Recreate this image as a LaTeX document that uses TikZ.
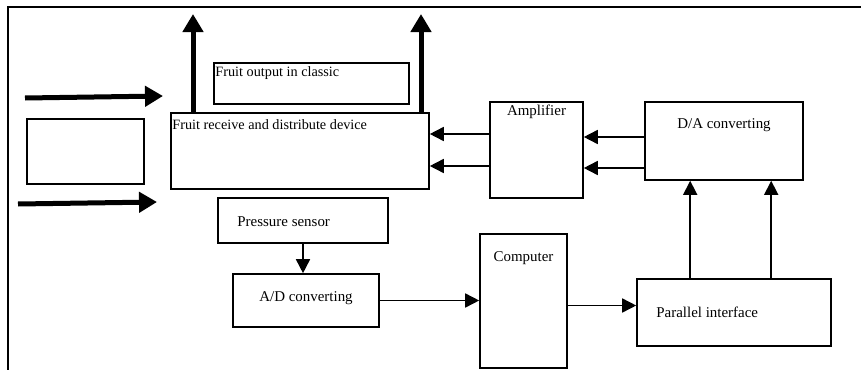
\documentclass[tikz,border=0pt]{standalone}
\usepackage{fontspec}
\setmainfont{Liberation Serif}
\usetikzlibrary{arrows.meta}

\begin{document}
\begin{tikzpicture}[
  box/.style={draw,line width=1.6bp,inner sep=0pt},
  lbl/.style={inner sep=0pt,font=\fontsize{15}{17}\selectfont},
  fruitlbl/.style={inner sep=0pt,font=\fontsize{14.3}{16}\selectfont},
  link/.style={-{Triangle[length=14bp,width=14bp]},line width=1.6bp},
  bigarrow/.style={-{Triangle[length=18bp,width=20bp]},line width=5bp}]

\useasboundingbox (0bp,0bp) rectangle (861bp,-370bp);
\draw [line width=1.8bp] (8bp,-370bp) -- (8bp,-7bp) -- (861bp,-7bp);

\node (outcls) at (311.5bp,-83.5bp)[box,minimum width=195bp,minimum height=41bp] {};
\node (dev) at (300bp,-151bp)[box,minimum width=258bp,minimum height=76bp] {};
\node (blank) at (85.5bp,-151.5bp)[box,minimum width=117bp,minimum height=65bp] {};
\node (amp) at (536.5bp,-150bp)[box,minimum width=93bp,minimum height=96bp] {};
\node (da) at (724bp,-141bp)[box,minimum width=158bp,minimum height=78bp] {};
\node (ps) at (303bp,-220.5bp)[box,minimum width=170bp,minimum height=45bp] {};
\node (ad) at (306bp,-300.5bp)[box,minimum width=146bp,minimum height=53bp] {};
\node (comp) at (523.5bp,-301bp)[box,minimum width=87bp,minimum height=134bp] {};
\node (par) at (734bp,-312.5bp)[box,minimum width=194bp,minimum height=67bp] {};

\node (outclsT) at ([xshift=2bp,yshift=-11bp]outcls.north west)[fruitlbl,anchor=west] {Fruit output in classic};
\node (devT) at ([xshift=2bp,yshift=-12bp]dev.north west)[fruitlbl,anchor=west] {Fruit receive and distribute device};
\node (ampT) at ([yshift=-11bp]amp.north)[lbl] {Amplifier};
\node (daT) at ([yshift=-24bp]da.north)[lbl] {D/A converting};
\node (psT) at ([xshift=20bp,yshift=-1bp]ps.west)[lbl,anchor=west] {Pressure sensor};
\node (adT) at ([yshift=2bp]ad.center)[lbl] {A/D converting};
\node (compT) at ([yshift=-25bp]comp.north)[lbl] {Computer};
\node (parT) at ([xshift=20bp]par.west)[lbl,anchor=west] {Parallel interface};

\coordinate (inA) at (25bp,-98bp);
\coordinate (inAend) at (163bp,-96bp);
\coordinate (inB) at (18bp,-204bp);
\coordinate (inBend) at (157bp,-202bp);
\coordinate (outA) at (193bp,-14bp);
\coordinate (outB) at (421bp,-14bp);

\draw [bigarrow] (inA) -- (inAend);
\draw [bigarrow] (inB) -- (inBend);
\draw [bigarrow] (outA |- dev.north) -- (outA);
\draw [bigarrow] (outB |- dev.north) -- (outB);

\draw [link] ([yshift=4bp]da.west) -- ([yshift=4bp]da.west -| amp.east);
\draw [link] ([yshift=-27bp]da.west) -- ([yshift=-27bp]da.west -| amp.east);
\draw [link] ([yshift=16bp]amp.west) -- ([yshift=16bp]amp.west -| dev.east);
\draw [link] ([yshift=-16bp]amp.west) -- ([yshift=-16bp]amp.west -| dev.east);
\draw [link] (ps.south) -- (ps.south |- ad.north);
\draw [link] (ad.east) -- (ad.east -| comp.west);
\draw [link] ([yshift=7bp]par.west -| comp.east) -- ([yshift=7bp]par.west);
\draw [link] ([xshift=54bp]par.north west) -- ([xshift=54bp]par.north west |- da.south);
\draw [link] ([xshift=135bp]par.north west) -- ([xshift=135bp]par.north west |- da.south);
\end{tikzpicture}
\end{document}
